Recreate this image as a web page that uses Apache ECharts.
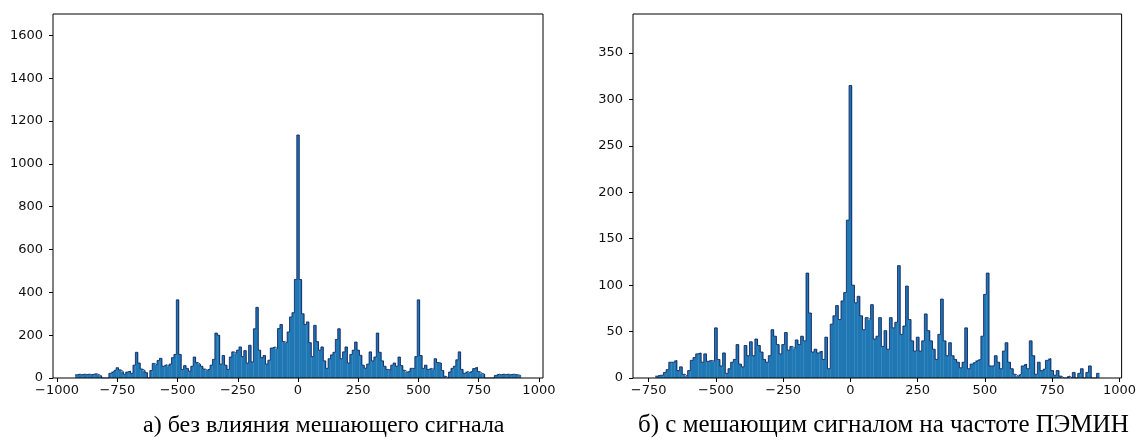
<!DOCTYPE html>
<html>
<head>
<meta charset="utf-8">
<script src="https://cdn.jsdelivr.net/npm/echarts@6.0.0/dist/echarts.min.js"></script>
<style>
  html, body { margin: 0; padding: 0; background: #fff; }
  #main { width: 1139px; height: 444px; }
</style>
</head>
<body>
<div id="main"></div>
<script>
// гистограмма а) — бины по 10, центры от -920 до 920
var binWidth = 10;
var startA = -920;
var countsA = [
  15, 18, 15, 18, 16, 18, 15, 18, 20, 15,
  10, 0, 0, 0, 22, 30, 38, 48, 38, 30,
  18, 28, 32, 22, 60, 120, 70, 42, 35, 25,
  0, 35, 68, 62, 82, 92, 55, 62, 55, 65,
  95, 110, 365, 110, 40, 58, 45, 32, 55, 98,
  72, 65, 55, 42, 36, 42, 60, 87, 210, 200,
  65, 105, 60, 40, 98, 122, 115, 130, 145, 100,
  128, 70, 153, 75, 230, 330, 130, 95, 105, 65,
  83, 140, 145, 137, 231, 250, 170, 165, 215, 285,
  305, 460, 1135, 460, 300, 250, 262, 165, 100, 246,
  170, 130, 145, 80, 45, 90, 108, 120, 180, 230,
  90, 122, 145, 70, 110, 130, 168, 130, 106, 60,
  46, 65, 122, 80, 98, 210, 120, 80, 55, 40,
  38, 60, 70, 55, 98, 58, 36, 28, 30, 45,
  45, 100, 365, 105, 45, 60, 40, 45, 40, 90,
  72, 70, 35, 8, 0, 28, 45, 55, 85, 122,
  40, 22, 30, 25, 32, 44, 50, 30, 22, 18,
  0, 0, 0, 0, 12, 18, 15, 18, 16, 18,
  15, 18, 16, 15, 12
];

// гистограмма б) — центры от -720 до 920
var startB = -720;
var countsB = [
  2, 3, 3, 6, 9, 17, 17, 19, 8, 12,
  4, 2, 8, 19, 22, 26, 27, 17, 26, 18,
  19, 18, 54, 20, 13, 27, 5, 10, 17, 20,
  36, 15, 12, 35, 24, 39, 24, 42, 35, 28,
  20, 17, 24, 52, 45, 36, 26, 36, 49, 30,
  34, 32, 41, 36, 45, 40, 113, 70, 28, 31,
  27, 29, 20, 44, 10, 58, 67, 78, 63, 83,
  92, 170, 315, 100, 81, 88, 67, 52, 65, 63,
  79, 42, 45, 65, 34, 51, 31, 65, 54, 60,
  121, 47, 56, 99, 63, 40, 29, 44, 29, 40,
  69, 51, 40, 31, 20, 47, 85, 40, 24, 38,
  24, 20, 17, 11, 17, 54, 10, 15, 17, 19,
  20, 45, 90, 113, 13, 13, 24, 17, 10, 29,
  38, 17, 10, 4, 2, 4, 13, 15, 10, 40,
  24, 4, 17, 8, 10, 19, 21, 8, 3, 8,
  2, 0, 0, 2, 0, 6, 0, 5, 10, 0,
  6, 13, 0, 0, 5
];

var xTicksA = [-1000, -750, -500, -250, 0, 250, 500, 750, 1000];
var yTicksA = [0, 200, 400, 600, 800, 1000, 1200, 1400, 1600];
var xTicksB = [-750, -500, -250, 0, 250, 500, 750, 1000];
var yTicksB = [0, 50, 100, 150, 200, 250, 300, 350];

var captionA = "а) без влияния мешающего сигнала";
var captionB = "б) с мешающим сигналом на частоте ПЭМИН";

function toBins(start, counts) {
  var out = [];
  for (var i = 0; i < counts.length; i++) {
    var c = start + i * binWidth;
    out.push([c - binWidth / 2, c + binWidth / 2, counts[i]]);
  }
  return out;
}

// контур гистограммы: точки по краям бинов
function toOutline(start, counts) {
  var out = [];
  for (var i = 0; i < counts.length; i++) {
    var c = start + i * binWidth;
    out.push([c - binWidth / 2, counts[i]]);
    out.push([c + binWidth / 2, counts[i]]);
  }
  return out;
}

function renderBar(params, api) {
  var h = api.value(2);
  if (!h) return;
  var p0 = api.coord([api.value(0), h]);
  var p1 = api.coord([api.value(1), 0]);
  return {
    type: "rect",
    shape: { x: p0[0], y: p0[1], width: p1[0] - p0[0] + 0.3, height: p1[1] - p0[1] },
    style: { fill: "#1f77b4" },
  };
}

function minusFmt(v) {
  return String(v).replace("-", "\u2212");
}
function plainFmt(v) {
  return String(v);
}

var labelStyle = { color: "#111", fontSize: 13, fontFamily: "DejaVu Sans" };

function xAxisFor(idx, min, max, ticks) {
  return {
    gridIndex: idx,
    type: "value",
    min: min,
    max: max,
    splitLine: { show: false },
    axisLine: { show: false, onZero: false },
    axisTick: { show: true, length: 4, lineStyle: { color: "#000" }, customValues: ticks },
    axisLabel: Object.assign({ margin: 6, formatter: minusFmt, customValues: ticks }, labelStyle),
  };
}

function yAxisFor(idx, max, ticks) {
  return {
    gridIndex: idx,
    type: "value",
    min: 0,
    max: max,
    splitLine: { show: false },
    axisLine: { show: false, onZero: false },
    axisTick: { show: true, length: 4, lineStyle: { color: "#000" }, customValues: ticks },
    axisLabel: Object.assign({ margin: 10, formatter: plainFmt, customValues: ticks }, labelStyle),
  };
}

function outlineSeries(idx, start, counts) {
  return {
    type: "line",
    xAxisIndex: idx,
    yAxisIndex: idx,
    data: toOutline(start, counts),
    symbol: "none",
    silent: true,
    z: 3,
    lineStyle: { color: "#0c1a55", width: 0.8 },
  };
}

var myChart = echarts.init(document.getElementById("main"));
myChart.setOption({
  animation: false,
  backgroundColor: "#fff",
  grid: [
    { left: 53, right: 596, top: 14, bottom: 66, show: true, borderColor: "#000", borderWidth: 1, z: 5 },
    { left: 633, right: 15, top: 14, bottom: 66, show: true, borderColor: "#000", borderWidth: 1, z: 5 },
  ],
  xAxis: [xAxisFor(0, -1017, 1017, xTicksA), xAxisFor(1, -808, 1008, xTicksB)],
  yAxis: [yAxisFor(0, 1700, yTicksA), yAxisFor(1, 392, yTicksB)],
  series: [
    { type: "custom", xAxisIndex: 0, yAxisIndex: 0, renderItem: renderBar, data: toBins(startA, countsA) },
    { type: "custom", xAxisIndex: 1, yAxisIndex: 1, renderItem: renderBar, data: toBins(startB, countsB) },
    outlineSeries(0, startA, countsA),
    outlineSeries(1, startB, countsB),
  ],
  graphic: [
    {
      type: "text", left: 143, top: 414,
      style: { text: captionA, fill: "#000", font: "24px 'Liberation Serif'" },
    },
    {
      type: "text", left: 638, top: 413,
      style: { text: captionB, fill: "#000", font: "25px 'Liberation Serif'" },
    },
  ],
});
</script>
</body>
</html>
